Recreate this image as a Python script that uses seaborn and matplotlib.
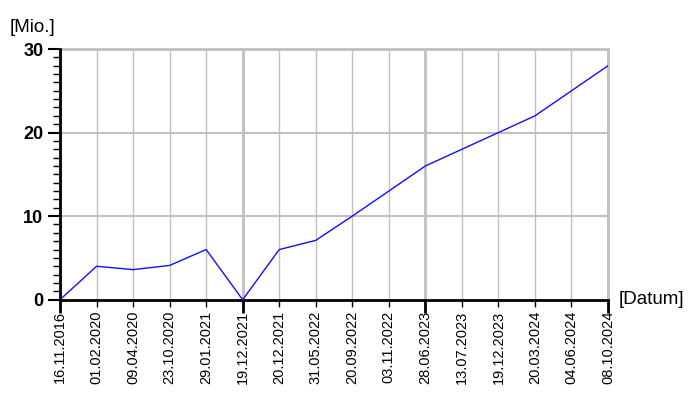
import numpy as np
import matplotlib
matplotlib.use('Agg')
import matplotlib.pyplot as plt
import seaborn as sns
from matplotlib.ticker import MultipleLocator

# data
dates = ['16.11.2016', '01.02.2020', '09.04.2020', '23.10.2020', '29.01.2021',
         '19.12.2021', '20.12.2021', '31.05.2022', '20.09.2022', '03.11.2022',
         '28.06.2023', '13.07.2023', '19.12.2023', '20.03.2024', '04.06.2024',
         '08.10.2024']
values = [0, 4.0, 3.6, 4.1, 6.0, 0, 6.0, 7.1, 10.0, 13.0, 16.0, 18.0, 20.0, 22.0, 25.0, 28.0]
major_idx = [0, 5, 10, 15]

sns.set_style('white')
plt.rcParams['font.family'] = ['Liberation Sans', 'DejaVu Sans']
plt.rcParams['text.color'] = 'black'
plt.rcParams['xtick.color'] = 'black'
plt.rcParams['ytick.color'] = 'black'

fig = plt.figure(figsize=(7, 4), dpi=100)
ax = fig.add_axes([60 / 700, 1 - 299.7 / 400, 548 / 700, 250.7 / 400])

pos = np.arange(len(dates))

# grid
grid_c = '#c0c0c0'
for i in pos:
    ax.axvline(i, color=grid_c, lw=2 if i in major_idx else 1, zorder=0)
for yv in [10, 20]:
    ax.axhline(yv, color=grid_c, lw=1.5, zorder=0)

sns.lineplot(x=pos, y=values, ax=ax, color='#1010ff', lw=1, zorder=3)

ax.set_xlim(0, len(dates) - 1)
ax.set_ylim(0, 30)
ax.set_xticks(pos)
ax.set_xticklabels(dates, rotation=90, fontsize=10.5)
ax.set_yticks([0, 10, 20, 30])
ax.set_yticklabels(['0', '10', '20', '30'], fontsize=13, fontweight='bold')
ax.yaxis.set_minor_locator(MultipleLocator(1))

ax.tick_params(axis='y', which='major', direction='out', length=9, width=1.5, color='black', labelcolor='black', pad=3, left=True)
ax.tick_params(axis='y', which='minor', direction='out', length=5, width=1, color='black', left=True)
ax.tick_params(axis='x', which='major', direction='out', length=5, width=1, color='black', labelcolor='black', pad=3, bottom=True)
for i, t in enumerate(ax.xaxis.get_major_ticks()):
    if i in major_idx:
        t.tick1line.set_markersize(9)
        t.tick1line.set_markeredgewidth(2)

for s in ['left', 'bottom']:
    ax.spines[s].set_color('black')
    ax.spines[s].set_linewidth(2)
for s in ['top', 'right']:
    ax.spines[s].set_color(grid_c)
    ax.spines[s].set_linewidth(2)
ax.spines['left'].set_zorder(4)
ax.set_xlabel('')
ax.set_ylabel('')

fig.text(10 / 700, 1 - 28 / 400, '[Mio.]', fontsize=13.5, va='center', ha='left', color='black')
fig.text(619 / 700, 1 - 299 / 400, '[Datum]', fontsize=13.5, va='center', ha='left', color='black')

fig.savefig('out.png', dpi=100)
